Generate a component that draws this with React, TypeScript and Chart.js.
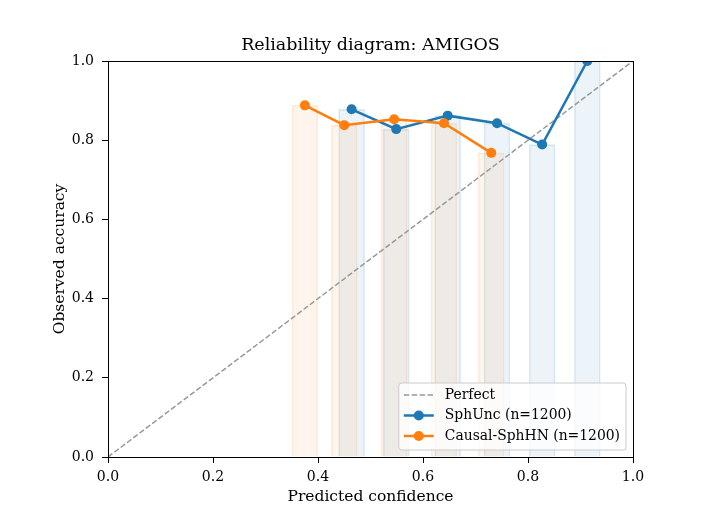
import { useEffect, useRef } from "react";
import { Chart, registerables } from "chart.js";

Chart.register(...registerables);

const FONT_FAMILY = "'DejaVu Serif', serif";

const titleText = "Reliability diagram: AMIGOS";
const xAxisLabel = "Predicted confidence";
const yAxisLabel = "Observed accuracy";
const tickValues = [0, 0.2, 0.4, 0.6, 0.8, 1.0];

const perfectX = [0, 1];
const perfectY = [0, 1];

const sphUncConf = [0.464, 0.549, 0.647, 0.741, 0.827, 0.913];
const sphUncAcc = [0.878, 0.828, 0.862, 0.843, 0.789, 1.0];

const causalConf = [0.375, 0.45, 0.545, 0.64, 0.73];
const causalAcc = [0.888, 0.838, 0.853, 0.843, 0.768];

const legendLabels = ["Perfect", "SphUnc (n=1200)", "Causal-SphHN (n=1200)"];

const BLUE = "#1f77b4";
const ORANGE = "#ff7f0e";
const GRAY = "#999999";

const pts = (xs: number[], ys: number[]) => xs.map((x, i) => ({ x, y: ys[i] }));

export default function App() {
  const ref = useRef<HTMLCanvasElement>(null);

  useEffect(() => {
    const canvas = ref.current!;

    const decorPlugin = {
      id: "decor",
      afterDraw(chart: any) {
        const { ctx, chartArea: a } = chart;
        ctx.save();
        // frame
        ctx.strokeStyle = "#000";
        ctx.lineWidth = 1;
        const l = Math.round(a.left) + 0.5;
        const t = Math.round(a.top) + 0.5;
        const r = Math.round(a.right) + 0.5;
        const b = Math.round(a.bottom) + 0.5;
        ctx.strokeRect(l, t, r - l, b - t);

        // title
        ctx.fillStyle = "#000";
        ctx.font = `17.5px ${FONT_FAMILY}`;
        ctx.textAlign = "center";
        ctx.textBaseline = "alphabetic";
        ctx.fillText(titleText, (a.left + a.right) / 2, 50);

        // legend
        const fs = 13.9;
        ctx.font = `${fs}px ${FONT_FAMILY}`;
        const maxW = Math.max(...legendLabels.map((s) => ctx.measureText(s).width));
        const boxW = 46 + maxW + 6;
        const boxH = 67;
        const bx = a.right - 7 - boxW;
        const by = a.bottom - 7 - boxH;
        ctx.beginPath();
        const rr = 3;
        ctx.moveTo(bx + rr, by);
        ctx.arcTo(bx + boxW, by, bx + boxW, by + boxH, rr);
        ctx.arcTo(bx + boxW, by + boxH, bx, by + boxH, rr);
        ctx.arcTo(bx, by + boxH, bx, by, rr);
        ctx.arcTo(bx, by, bx + boxW, by, rr);
        ctx.closePath();
        ctx.fillStyle = "rgba(255,255,255,0.8)";
        ctx.fill();
        ctx.strokeStyle = "#cccccc";
        ctx.lineWidth = 1;
        ctx.stroke();

        const rowY = [by + 12, by + 32.5, by + 53];
        const colors = [GRAY, BLUE, ORANGE];
        legendLabels.forEach((label, i) => {
          const y = rowY[i];
          ctx.beginPath();
          ctx.strokeStyle = colors[i];
          if (i === 0) {
            ctx.lineWidth = 1.5;
            ctx.setLineDash([5.5, 2.4]);
          } else {
            ctx.lineWidth = 2.5;
            ctx.setLineDash([]);
          }
          ctx.moveTo(bx + 5, y);
          ctx.lineTo(bx + 35, y);
          ctx.stroke();
          ctx.setLineDash([]);
          if (i > 0) {
            ctx.beginPath();
            ctx.fillStyle = colors[i];
            ctx.arc(bx + 20, y, 5, 0, Math.PI * 2);
            ctx.fill();
          }
          ctx.fillStyle = "#000";
          ctx.textAlign = "left";
          ctx.textBaseline = "middle";
          ctx.fillText(label, bx + 46, y);
        });
        ctx.restore();
      },
    };

    const tickFont = { family: FONT_FAMILY, size: 14 };
    const labelFont = { family: FONT_FAMILY, size: 15.5 };

    const chart = new Chart(canvas, {
      type: "line",
      data: {
        datasets: [
          {
            type: "line",
            label: "Perfect",
            data: pts(perfectX, perfectY),
            borderColor: GRAY,
            borderWidth: 1.5,
            borderDash: [5.5, 2.4],
            pointRadius: 0,
            fill: false,
            order: 2,
          },
          {
            type: "line",
            label: legendLabels[1],
            data: pts(sphUncConf, sphUncAcc),
            borderColor: BLUE,
            backgroundColor: BLUE,
            borderWidth: 2.5,
            pointRadius: 5,
            pointBorderWidth: 0,
            pointBackgroundColor: BLUE,
            fill: false,
            order: 1,
          },
          {
            type: "line",
            label: legendLabels[2],
            data: pts(causalConf, causalAcc),
            borderColor: ORANGE,
            backgroundColor: ORANGE,
            borderWidth: 2.5,
            pointRadius: 5,
            pointBorderWidth: 0,
            pointBackgroundColor: ORANGE,
            fill: false,
            order: 0,
          },
          {
            type: "bar",
            label: "SphUnc bins",
            data: pts(sphUncConf, sphUncAcc),
            backgroundColor: "rgba(31,119,180,0.08)",
            borderColor: "rgba(31,119,180,0.14)",
            borderWidth: 1,
            barThickness: 26,
            grouped: false,
            order: 4,
          } as any,
          {
            type: "bar",
            label: "Causal bins",
            data: pts(causalConf, causalAcc),
            backgroundColor: "rgba(255,127,14,0.08)",
            borderColor: "rgba(255,127,14,0.14)",
            borderWidth: 1,
            barThickness: 26,
            grouped: false,
            order: 3,
          } as any,
        ],
      },
      options: {
        responsive: false,
        animation: false,
        devicePixelRatio: 1,
        events: [],
        layout: { padding: { top: 61, right: 71, left: 0, bottom: 0 } },
        plugins: {
          legend: { display: false },
          title: { display: false },
          tooltip: { enabled: false },
        },
        scales: {
          x: {
            type: "linear",
            min: 0,
            max: 1,
            offset: false,
            afterBuildTicks: (s: any) => {
              s.ticks = tickValues.map((v) => ({ value: v }));
            },
            afterFit: (s: any) => {
              s.height = 52;
            },
            ticks: {
              color: "#000",
              font: tickFont,
              padding: 6,
              maxRotation: 0,
              autoSkip: false,
              callback: (v: any) => Number(v).toFixed(1),
            },
            grid: {
              display: true,
              drawOnChartArea: false,
              drawTicks: true,
              tickLength: 6,
              tickColor: "#000",
              offset: false,
            },
            border: { display: false },
            title: {
              display: true,
              text: xAxisLabel,
              color: "#000",
              font: labelFont,
              padding: { top: 0, bottom: 2.7 },
            },
          },
          y: {
            type: "linear",
            min: 0,
            max: 1,
            afterBuildTicks: (s: any) => {
              s.ticks = tickValues.map((v) => ({ value: v }));
            },
            afterFit: (s: any) => {
              s.width = 108;
            },
            ticks: {
              color: "#000",
              font: tickFont,
              padding: 8,
              autoSkip: false,
              callback: (v: any) => Number(v).toFixed(1),
            },
            grid: {
              display: true,
              drawOnChartArea: false,
              drawTicks: true,
              tickLength: 6,
              tickColor: "#000",
            },
            border: { display: false },
            title: {
              display: true,
              text: yAxisLabel,
              color: "#000",
              font: labelFont,
              padding: { top: 50.3, bottom: 0 },
            },
          },
        },
      } as any,
      plugins: [decorPlugin],
    });

    return () => chart.destroy();
  }, []);

  return (
    <div style={{ position: "absolute", left: 0, top: 0, width: 704, height: 509, background: "#fff" }}>
      <canvas ref={ref} width={704} height={509} style={{ width: 704, height: 509, display: "block" }} />
    </div>
  );
}
